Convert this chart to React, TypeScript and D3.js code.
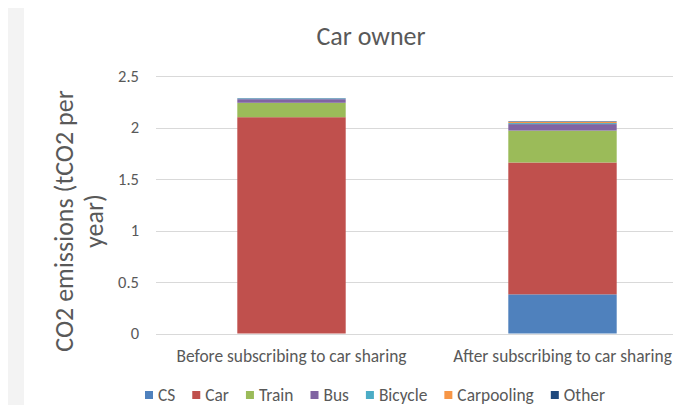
import React, { useEffect, useRef } from "react";
import * as d3 from "d3";

const categories = ["Before subscribing to car sharing", "After subscribing to car sharing"];
const seriesNames = ["CS", "Car", "Train", "Bus", "Bicycle", "Carpooling", "Other"];
const csValues = [0, 0.38];
const carValues = [2.1, 1.28];
const trainValues = [0.14, 0.31];
const busValues = [0.035, 0.063];
const bicycleValues = [0.006, 0.01];
const carpoolingValues = [0, 0.012];
const otherValues = [0.003, 0.005];
const yTicks = [0, 0.5, 1, 1.5, 2, 2.5];
const colors = ["#4f81bd", "#c0504d", "#9bbb59", "#8064a2", "#4bacc6", "#f79646", "#1f497d"];

const FONT = "Carlito, Calibri, Lato, 'Liberation Sans', sans-serif";
const TEXT = "#595959";

export default function App() {
  const ref = useRef<SVGSVGElement>(null);
  useEffect(() => {
    const svg = d3.select(ref.current);
    svg.selectAll("*").remove();
    const W = 681, H = 413;
    svg.append("rect").attr("width", W).attr("height", H).attr("fill", "#f3f3f3");
    svg.append("rect").attr("x", 24).attr("y", 7).attr("width", W - 24).attr("height", H - 7).attr("fill", "#fff");
    svg.append("rect").attr("x", 570).attr("y", 0).attr("width", W - 570).attr("height", 7).attr("fill", "#fff");

    const all = [csValues, carValues, trainValues, busValues, bicycleValues, carpoolingValues, otherValues];
    const rows = categories.map((c, i) => {
      const r: any = { cat: c };
      seriesNames.forEach((s, k) => (r[s] = all[k][i]));
      return r;
    });
    const stack = d3.stack<any>().keys(seriesNames)(rows);

    const y = d3.scaleLinear().domain([0, 2.5]).range([333.5, 76]);
    const x = d3.scaleBand().domain(categories).range([156, 698]).paddingInner(0.6).paddingOuter(0.3);

    const g = svg.append("g");
    g.selectAll("line.grid").data(yTicks).join("line")
      .attr("x1", 156).attr("x2", 698)
      .attr("y1", (d) => Math.round(y(d)) + 0.5).attr("y2", (d) => Math.round(y(d)) + 0.5)
      .attr("stroke", "#d9d9d9").attr("stroke-width", 1);

    g.selectAll("text.tick").data(yTicks).join("text")
      .attr("x", 139).attr("y", (d) => y(d)).attr("dy", "0.35em")
      .attr("text-anchor", "end").attr("font-family", FONT).attr("font-size", 16.5).attr("fill", TEXT)
      .text((d) => String(d));

    stack.forEach((layer, k) => {
      g.append("g").selectAll("rect").data(layer).join("rect")
        .attr("x", (d: any) => x(d.data.cat)!)
        .attr("width", x.bandwidth())
        .attr("y", (d: any) => y(d[1]))
        .attr("height", (d: any) => Math.max(0, y(d[0]) - y(d[1])))
        .attr("fill", colors[k]);
    });

    g.selectAll("text.xl").data(categories).join("text")
      .attr("x", (d) => x(d)! + x.bandwidth() / 2).attr("y", 362)
      .attr("text-anchor", "middle").attr("font-family", FONT).attr("font-size", 17.4).attr("fill", TEXT)
      .text((d) => d);

    svg.append("text").attr("x", 371).attr("y", 45).attr("text-anchor", "middle")
      .attr("font-family", FONT).attr("font-size", 26).attr("fill", TEXT).text("Car owner");

    const yl = svg.append("text").attr("transform", "translate(73,221) rotate(-90)")
      .attr("text-anchor", "middle").attr("font-family", FONT).attr("font-size", 26).attr("fill", TEXT);
    yl.append("tspan").attr("x", 0).attr("y", 0).text("CO2 emissions (tCO2 per");
    yl.append("tspan").attr("x", 0).attr("y", 30).text("year)");

    const leg = svg.append("g");
    let lx = 145;
    seriesNames.forEach((s, k) => {
      leg.append("rect").attr("x", lx).attr("y", 391).attr("width", 8).attr("height", 8).attr("fill", colors[k]);
      const t = leg.append("text").attr("x", lx + 13).attr("y", 401)
        .attr("font-family", FONT).attr("font-size", 17.4).attr("fill", TEXT).text(s);
      const w = (t.node() as SVGTextElement).getComputedTextLength();
      lx += 13 + w + 17;
    });
  }, []);
  return (
    <div style={{ margin: -8 }}>
      <svg ref={ref} width={681} height={413} style={{ display: "block" }} />
    </div>
  );
}
